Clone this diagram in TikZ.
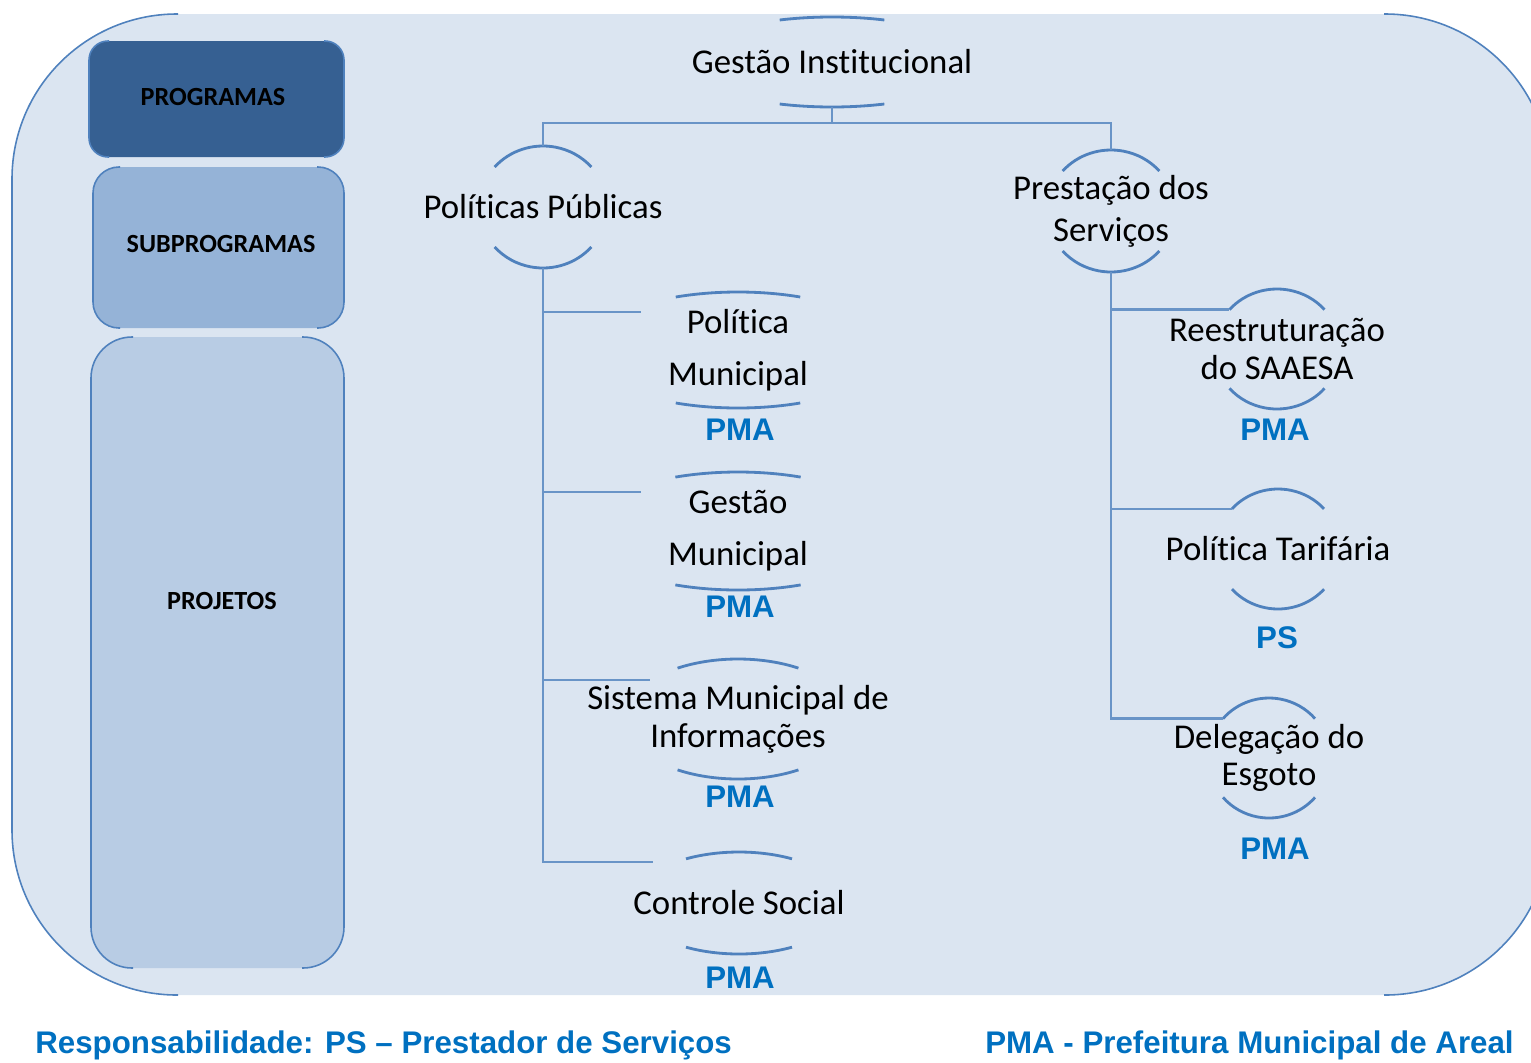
\documentclass[tikz,border=0pt]{standalone}
\usepackage{fontspec}
\setmainfont{Carlito}[Ligatures=NoCommon]
\newfontfamily\arialfont{Liberation Sans}
\usepackage{tikz}
\usetikzlibrary{calc,positioning}

\definecolor{bgblue}{HTML}{DBE5F1}
\definecolor{lineblue}{HTML}{4F81BD}
\definecolor{progblue}{HTML}{366092}
\definecolor{subblue}{HTML}{95B3D7}
\definecolor{projblue}{HTML}{B8CCE4}
\definecolor{respblue}{HTML}{0070C0}

% arcs above and below a label: name, x radius, y radius, half angle
\newcommand{\labelarcs}[4]{%
  \draw[arcline] ($(#1.center)+({-#2*sin(#4)},{-#3*cos(#4)})$) coordinate (#1-tl)
      arc[start angle={270-#4}, end angle={270+#4}, x radius=#2, y radius=#3];
  \draw[arcline] ($(#1.center)+({#2*sin(#4)},{#3*cos(#4)})$)
      arc[start angle={90-#4}, end angle={90+#4}, x radius=#2, y radius=#3];
  \coordinate (#1-top) at ($(#1.center)+(0,-#3)$);
  \coordinate (#1-bot) at ($(#1.center)+(0,#3)$);
}

\begin{document}
\begin{tikzpicture}[x=0.2mm, y=-0.2mm,
        arcline/.style = {draw=lineblue, line width=1.6pt},
        link/.style = {draw=lineblue!85, line width=1.5pt},
        rim/.style = {draw=lineblue, line width=0.9pt},
        item/.style = {align=center, inner sep=0pt, font=\fontsize{19.8}{21.5}\selectfont},
        resp/.style = {text=respblue, inner sep=0pt, font=\arialfont\bfseries\fontsize{17.8}{20}\selectfont},
        tier/.style = {inner sep=0pt, font=\bfseries\fontsize{14.9}{17}\selectfont},
    ]
    \useasboundingbox (0,0) rectangle (1531,1062);

    % background
    \fill[bgblue, rounded corners=33mm] (12,14) rectangle (1550,995);
    \draw[rim] [rounded corners=33mm] (178,14) -| (12,995) -- (178,995);
    \draw[rim] [rounded corners=33mm] (1384,14) -| (1550,995) -- (1384,995);

    % left column
    \fill[progblue, rounded corners=4mm] (89,41) rectangle (344,157);
    \draw[rim] [rounded corners=3.8mm] (109,41) -| (89,157) -- (109,157);
    \draw[rim] [rounded corners=3.8mm] (324,41) -| (344,157) -- (324,157);
    \fill[subblue, rounded corners=5.4mm] (93,167) rectangle (344,328);
    \draw[rim] [rounded corners=5.2mm] (120,167) -| (93,328) -- (120,328);
    \draw[rim] [rounded corners=5.2mm] (317,167) -| (344,328) -- (317,328);
    \fill[projblue, rounded corners=8.4mm] (91,337) rectangle (344,968);
    \draw[rim] [rounded corners=8.2mm] (133,337) -| (91,968) -- (133,968);
    \draw[rim] [rounded corners=8.2mm] (302,337) -| (344,968) -- (302,968);

    \node[tier] (prog) at (213,97) {PROGRAMAS};
    \node[tier] (subprog) at (221,244) {SUBPROGRAMAS};
    \node[tier] (proj) at (222,601) {PROJETOS};

    % hierarchy
    \node[item] (gi) at (832,62) {Gestão Institucional};
    \node[item] (pp) at (543,207) {Políticas Públicas};
    \node[item, font=\fontsize{19.8}{23.8}\selectfont] (ps) at (1111,211) {Prestação dos\\Serviços};

    \node[item, font=\fontsize{19.8}{29.5}\selectfont] (pm) at (738,350) {Política\\Municipal};
    \node[item, font=\fontsize{19.8}{29.5}\selectfont] (gm) at (738,531) {Gestão\\Municipal};
    \node[item] (si) at (738,719) {Sistema Municipal de\\Informações};
    \node[item] (cs) at (739,903) {Controle Social};

    \node[item] (rs) at (1277,349) {Reestruturação\\do SAAESA};
    \node[item] (pt) at (1278,549) {Política Tarifária};
    \node[item] (dl) at (1269,758) {Delegação do\\Esgoto};

    \labelarcs{gi}{146}{45}{21}
    \labelarcs{pp}{64}{61}{49}
    \labelarcs{ps}{64}{61}{49}
    \labelarcs{pm}{153}{58}{24}
    \labelarcs{gm}{154}{59}{24}
    \labelarcs{si}{114}{60}{32}
    \labelarcs{cs}{106}{51}{30}
    \labelarcs{rs}{63}{60}{49}
    \labelarcs{pt}{62}{60}{48}
    \labelarcs{dl}{61}{60}{49}

    \node[resp] (pm-r) at (740,430) {PMA};
    \node[resp] (gm-r) at (740,607) {PMA};
    \node[resp] (si-r) at (740,797) {PMA};
    \node[resp] (cs-r) at (740,978) {PMA};
    \node[resp] (rs-r) at (1275,430) {PMA};
    \node[resp] (pt-r) at (1277,638) {PS};
    \node[resp] (dl-r) at (1275,849) {PMA};

    % connectors
    \coordinate (pm-in) at (641,312);
    \coordinate (gm-in) at (641,492);
    \coordinate (si-in) at (650,680);
    \coordinate (cs-in) at (653,862);

    \draw[link] (gi-bot) -- ++(0,16) -| (pp-top);
    \draw[link] (gi-bot) -- ++(0,16) -| (ps-top);
    \draw[link] (pp-bot) |- (cs-in);
    \draw[link] (pp-bot |- pm-in) -- (pm-in);
    \draw[link] (pp-bot |- gm-in) -- (gm-in);
    \draw[link] (pp-bot |- si-in) -- (si-in);
    \draw[link] (ps-bot) |- (dl-tl);
    \draw[link] (ps-bot |- rs-tl) -- (rs-tl);
    \draw[link] (ps-bot |- pt-tl) -- (pt-tl);

    % legend
    \node[resp, anchor=west] (leg-ps) at (35,1045) {Responsabilidade: PS – Prestador de Serviços};
    \node[resp, anchor=east] (leg-pma) at (1514,1045) {PMA - Prefeitura Municipal de Areal};
\end{tikzpicture}
\end{document}
